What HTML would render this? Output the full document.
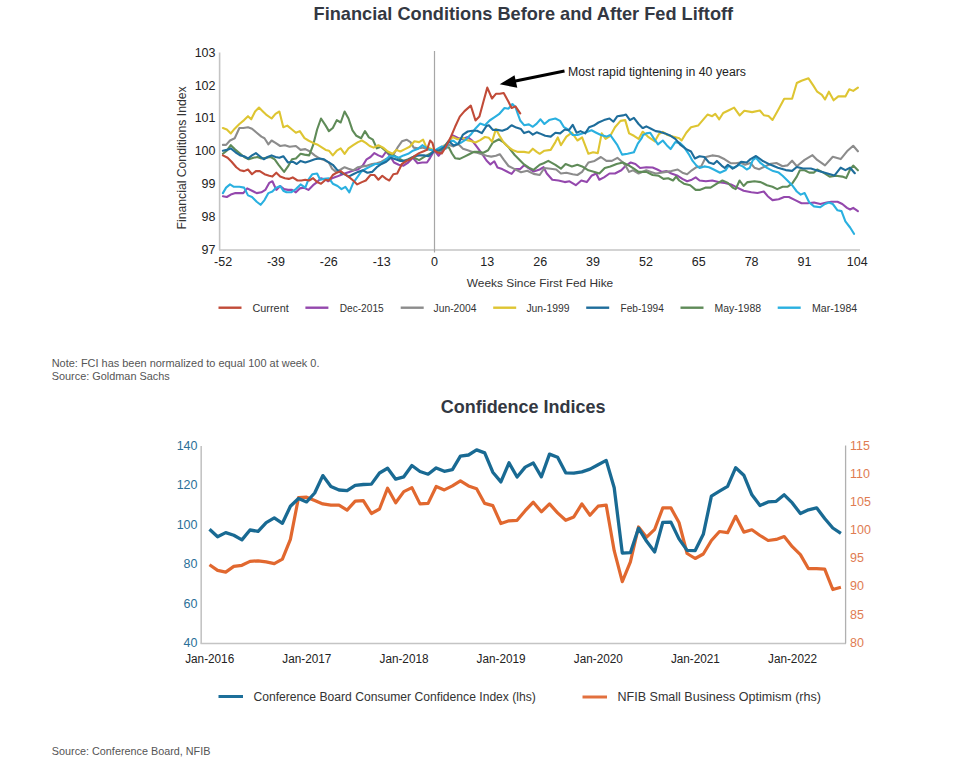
<!DOCTYPE html>
<html><head><meta charset="utf-8"><style>
html,body{margin:0;padding:0;background:#fff;}
body{width:974px;height:765px;overflow:hidden;font-family:"Liberation Sans", sans-serif;}
svg{display:block;}
</style></head><body>
<svg width="974" height="765" viewBox="0 0 974 765" font-family='"Liberation Sans", sans-serif'><text x="313.6" y="19.8" font-size="18.6" fill="#333842" text-anchor="start" font-weight="bold" textLength="419.5" lengthAdjust="spacingAndGlyphs" >Financial Conditions Before and After Fed Liftoff</text>
<line x1="219.6" y1="52.5" x2="219.6" y2="250" stroke="#c4c4c4" stroke-width="1.6"/>
<line x1="219" y1="250" x2="860" y2="250" stroke="#c4c4c4" stroke-width="1.6"/>
<line x1="434.5" y1="51" x2="434.5" y2="252.5" stroke="#a6a6a6" stroke-width="1.2"/>
<text x="215.5" y="253.6" font-size="12.5" fill="#222" text-anchor="end" font-weight="normal" >97</text>
<text x="215.5" y="220.8" font-size="12.5" fill="#222" text-anchor="end" font-weight="normal" >98</text>
<text x="215.5" y="188.0" font-size="12.5" fill="#222" text-anchor="end" font-weight="normal" >99</text>
<text x="215.5" y="155.2" font-size="12.5" fill="#222" text-anchor="end" font-weight="normal" >100</text>
<text x="215.5" y="122.4" font-size="12.5" fill="#222" text-anchor="end" font-weight="normal" >101</text>
<text x="215.5" y="89.6" font-size="12.5" fill="#222" text-anchor="end" font-weight="normal" >102</text>
<text x="215.5" y="56.8" font-size="12.5" fill="#222" text-anchor="end" font-weight="normal" >103</text>
<text x="223.1" y="266.0" font-size="12.5" fill="#222" text-anchor="middle" font-weight="normal" >-52</text>
<text x="276.0" y="266.0" font-size="12.5" fill="#222" text-anchor="middle" font-weight="normal" >-39</text>
<text x="328.8" y="266.0" font-size="12.5" fill="#222" text-anchor="middle" font-weight="normal" >-26</text>
<text x="381.7" y="266.0" font-size="12.5" fill="#222" text-anchor="middle" font-weight="normal" >-13</text>
<text x="434.5" y="266.0" font-size="12.5" fill="#222" text-anchor="middle" font-weight="normal" >0</text>
<text x="487.3" y="266.0" font-size="12.5" fill="#222" text-anchor="middle" font-weight="normal" >13</text>
<text x="540.2" y="266.0" font-size="12.5" fill="#222" text-anchor="middle" font-weight="normal" >26</text>
<text x="593.0" y="266.0" font-size="12.5" fill="#222" text-anchor="middle" font-weight="normal" >39</text>
<text x="645.9" y="266.0" font-size="12.5" fill="#222" text-anchor="middle" font-weight="normal" >52</text>
<text x="698.7" y="266.0" font-size="12.5" fill="#222" text-anchor="middle" font-weight="normal" >65</text>
<text x="751.6" y="266.0" font-size="12.5" fill="#222" text-anchor="middle" font-weight="normal" >78</text>
<text x="804.4" y="266.0" font-size="12.5" fill="#222" text-anchor="middle" font-weight="normal" >91</text>
<text x="857.3" y="266.0" font-size="12.5" fill="#222" text-anchor="middle" font-weight="normal" >104</text>
<text x="540.0" y="286.8" font-size="11.8" fill="#333" text-anchor="middle" font-weight="normal" textLength="146.4" lengthAdjust="spacingAndGlyphs" >Weeks Since First Fed Hike</text>
<text transform="translate(185.8,157.9) rotate(-90)" font-size="12.6" fill="#333" text-anchor="middle" textLength="143" lengthAdjust="spacingAndGlyphs">Financial Conditions Index</text>
<polyline points="222.9,196.2 226.8,197.0 230.8,194.6 235.5,193.1 239.4,193.1 243.3,193.1 247.2,188.4 252.0,190.7 256.7,193.1 261.4,192.3 265.3,189.9 269.2,182.9 272.4,181.3 276.3,189.9 280.2,186.0 284.1,189.1 288.0,189.9 292.0,189.9 295.9,192.3 299.8,188.4 303.7,187.6 308.4,189.9 313.1,185.2 317.1,182.1 321.0,178.2 325.7,179.7 328.1,181.3 332.1,178.2 336.8,176.6 340.7,175.0 344.6,173.5 349.3,171.9 354.0,170.3 358.0,169.5 362.7,165.6 366.6,159.3 370.5,157.0 374.4,153.1 378.4,155.4 382.3,157.0 386.2,151.5 390.1,156.2 394.0,162.5 398.7,164.8 403.5,165.6 408.2,162.5 412.9,157.8 417.6,163.3 422.3,162.5 427.0,162.5 430.1,157.8 434.4,150.5 434.5,150.7 438.6,155.8 442.6,150.3 447.3,144.0 452.8,135.4 457.5,137.8 462.2,139.3 467.7,137.0 472.4,140.9 477.1,147.2 481.8,153.5 486.5,160.5 490.4,164.4 494.3,161.3 497.5,167.6 502.2,169.1 506.9,171.5 511.6,173.9 515.5,169.1 520.2,169.1 524.1,165.2 528.9,168.4 533.6,171.5 539.7,169.5 543.6,167.2 546.8,173.5 552.3,179.7 558.5,180.5 564.8,182.1 569.5,181.3 575.8,185.2 581.3,180.5 586.8,182.1 591.5,175.8 596.2,173.5 599.3,179.7 604.0,177.4 609.5,173.5 615.0,173.5 621.3,170.3 626.0,165.6 630.7,162.5 635.4,164.0 640.1,168.0 646.3,167.2 652.6,167.5 657.3,169.5 662.0,171.9 666.7,171.1 671.4,173.5 677.7,175.8 682.4,178.9 687.1,181.3 691.8,179.7 695.7,177.4 699.6,180.5 705.9,181.3 712.2,180.5 718.5,182.1 724.7,182.9 731.0,184.4 737.3,187.6 743.6,190.7 751.3,192.3 757.5,193.0 763.8,191.5 767.7,196.2 772.5,200.1 778.7,199.3 784.2,197.0 788.9,197.0 795.2,200.1 801.5,203.2 807.7,203.2 814.0,202.5 820.3,204.0 826.6,202.5 831.3,201.7 837.5,201.7 842.3,204.0 847.0,207.9 850.1,209.5 853.2,207.9 857.9,211.1" fill="none" stroke="#9448ad" stroke-width="2.1" stroke-linejoin="round" stroke-linecap="round"/>
<polyline points="222.9,144.9 226.1,144.9 230.0,140.5 234.7,138.2 239.4,128.0 243.3,128.0 248.0,127.2 252.0,128.7 256.7,132.7 261.4,136.6 264.5,138.2 268.4,144.4 271.6,140.5 275.5,142.9 280.2,146.0 284.9,145.2 289.6,146.8 295.9,146.0 300.6,149.9 305.3,149.1 310.0,151.5 314.7,155.4 319.4,158.5 324.1,160.1 328.9,162.5 332.1,168.7 336.0,171.9 340.7,169.5 344.6,167.2 348.5,168.7 353.2,170.3 358.0,167.2 362.7,166.4 367.4,165.6 372.1,164.0 376.8,163.3 381.5,161.7 385.4,159.3 389.3,157.8 394.0,153.8 398.0,146.8 401.9,141.3 406.6,139.7 410.5,142.1 413.7,147.6 417.6,148.4 422.3,147.6 427.0,149.1 431.7,149.9 434.4,150.5 434.5,150.7 439.4,149.5 444.1,145.6 448.8,144.8 453.5,146.4 458.2,144.0 463.0,148.7 467.7,150.3 472.4,151.9 477.1,152.7 481.8,154.2 486.5,155.8 491.2,156.6 495.9,155.8 499.8,154.2 503.7,159.7 508.5,166.0 514.7,169.1 521.0,172.3 527.3,170.7 533.6,173.9 539.7,175.0 544.4,168.0 550.7,168.7 556.2,169.5 560.9,173.5 566.4,172.7 572.7,174.2 577.4,175.0 582.1,171.9 588.4,162.5 594.6,160.9 600.9,157.0 606.4,160.9 611.9,160.9 617.4,157.8 622.1,161.7 626.0,166.4 629.1,171.9 633.1,170.3 638.6,173.5 646.3,170.3 651.0,171.9 655.7,173.5 661.2,172.7 665.9,171.9 671.4,171.1 677.7,169.5 682.4,172.7 687.1,174.2 691.8,170.3 696.5,167.2 701.2,166.4 705.9,157.0 712.2,155.4 718.5,156.2 724.7,159.3 731.0,163.3 735.7,163.3 740.4,162.5 745.1,164.8 750.5,163.0 754.4,167.7 759.1,169.3 765.4,166.2 770.9,163.8 776.4,163.0 782.6,166.2 787.4,165.4 792.1,160.7 796.8,166.2 804.6,159.9 812.5,155.2 817.2,159.9 825.0,165.4 832.8,156.8 840.7,159.1 847.0,151.3 853.2,145.8 857.9,151.3" fill="none" stroke="#8c8c8c" stroke-width="2.1" stroke-linejoin="round" stroke-linecap="round"/>
<polyline points="222.9,153.8 226.8,150.7 230.8,145.2 234.7,149.1 239.4,153.1 244.1,157.0 248.8,159.3 253.5,157.8 257.4,157.0 261.4,158.5 266.1,157.8 270.8,157.0 274.7,159.3 278.6,164.8 284.1,171.9 288.0,166.4 292.0,159.3 295.9,158.5 300.6,153.8 304.5,154.6 309.2,155.4 313.1,145.2 317.1,129.5 321.0,118.5 325.7,125.6 328.9,131.1 332.8,128.0 336.8,120.1 340.7,122.5 344.6,111.5 348.5,118.5 352.5,130.3 356.4,135.8 361.1,138.2 365.0,131.1 368.9,137.4 372.9,139.7 376.8,148.4 380.7,146.8 385.4,150.7 389.3,153.8 394.0,155.4 398.7,158.5 403.5,160.9 408.2,159.3 412.9,157.0 419.1,160.1 425.4,156.2 430.1,153.8 434.4,150.5 434.5,150.7 439.4,151.1 444.1,148.0 448.8,147.2 452.0,153.5 455.1,158.2 459.8,158.9 464.5,156.6 469.2,154.2 473.9,151.9 478.6,151.9 483.4,152.7 488.1,150.3 492.8,142.5 499.0,139.3 503.7,142.5 508.5,147.2 514.7,155.0 519.4,159.7 524.1,164.4 528.9,167.6 533.6,169.9 539.7,164.8 543.6,163.3 548.3,160.9 555.4,164.8 560.9,168.7 565.6,164.0 571.9,166.4 577.4,164.8 582.1,166.4 588.4,170.3 594.6,171.9 599.3,173.5 604.8,168.0 610.3,166.4 616.6,164.0 622.9,162.5 629.1,165.6 633.9,168.7 638.6,171.9 646.3,171.9 652.6,175.0 658.8,175.8 663.5,178.9 668.2,178.2 673.0,180.5 676.1,176.6 679.2,180.5 683.9,183.7 690.2,185.2 695.7,189.9 699.6,189.9 705.9,187.6 710.6,187.6 716.9,183.7 722.4,180.5 727.9,182.9 732.6,187.6 735.7,189.1 739.6,180.5 743.6,186.0 747.5,182.1 748.1,182.1 754.4,181.3 760.7,182.1 767.0,185.2 772.5,186.8 777.2,189.1 782.6,186.8 787.4,186.8 792.1,183.6 796.8,176.6 799.9,170.3 804.6,170.3 809.3,172.6 814.0,172.6 817.2,169.5 823.4,172.6 829.7,176.6 836.0,175.8 842.3,176.6 846.2,178.1 850.1,169.5 853.2,165.6 857.9,170.3" fill="none" stroke="#5f8b58" stroke-width="2.1" stroke-linejoin="round" stroke-linecap="round"/>
<polyline points="222.9,128.0 226.8,129.5 230.8,133.4 234.7,128.7 239.4,124.0 244.1,120.1 248.0,116.2 251.2,119.3 255.1,111.5 259.0,107.6 262.9,111.5 266.1,114.6 271.6,118.5 275.5,113.8 279.4,111.5 283.3,127.2 287.3,125.6 292.0,129.5 295.9,132.7 299.8,131.1 304.5,138.2 308.4,140.5 313.1,142.9 317.1,144.4 321.0,146.8 325.7,149.9 328.9,150.7 332.8,155.4 336.8,150.7 340.7,148.4 344.6,153.8 348.5,148.4 353.2,145.2 358.0,142.1 361.9,140.5 365.8,142.9 369.7,146.0 373.6,147.6 378.4,145.2 383.1,147.6 387.8,151.5 392.5,153.8 396.4,149.9 400.3,151.5 405.0,149.1 409.7,146.8 414.4,141.3 419.1,142.1 423.1,139.7 426.2,146.8 430.1,148.4 434.4,150.5 434.5,150.7 439.4,150.3 444.1,146.4 448.8,140.9 452.8,137.0 457.5,139.3 462.2,137.8 466.9,140.1 470.8,140.9 475.5,142.5 480.2,140.1 484.9,137.0 488.8,137.8 492.0,141.7 495.9,129.1 499.8,136.2 503.7,142.5 508.5,147.2 513.2,150.3 517.9,151.9 524.1,151.9 528.9,152.7 532.8,148.7 536.7,151.9 539.7,153.8 544.4,150.7 550.7,149.9 555.4,142.1 557.8,137.4 560.9,145.2 566.4,136.6 571.9,132.7 577.4,140.5 582.1,137.4 588.4,153.8 593.1,152.3 597.8,153.1 601.7,133.4 605.6,138.9 610.3,135.8 615.0,127.2 620.5,120.9 625.2,120.1 629.1,133.4 633.9,135.8 638.6,138.9 642.5,131.9 643.1,131.9 647.8,136.6 654.9,141.3 658.8,134.2 662.8,131.9 667.5,135.0 673.0,136.6 679.2,138.2 681.6,140.5 686.3,132.7 691.0,127.2 698.1,125.6 702.8,120.1 707.5,114.6 712.2,116.2 715.3,113.8 719.2,119.3 723.2,113.0 727.9,110.7 734.1,107.6 739.6,115.4 744.3,110.7 752.1,112.1 759.9,110.5 763.8,115.2 768.5,116.0 772.5,119.9 778.7,108.9 784.2,98.7 792.1,98.7 796.8,83.0 801.5,80.7 808.5,78.3 813.2,85.4 817.2,91.7 821.9,94.8 825.0,99.5 828.9,91.7 833.6,100.3 838.3,96.4 845.4,96.4 849.3,89.3 853.2,90.9 857.9,87.7" fill="none" stroke="#dec532" stroke-width="2.1" stroke-linejoin="round" stroke-linecap="round"/>
<polyline points="222.9,193.1 226.1,187.6 230.0,184.4 233.9,186.8 239.4,186.8 244.1,187.6 248.0,195.4 252.0,197.0 256.7,201.7 260.6,204.8 264.5,200.1 268.4,193.1 272.4,191.5 276.3,187.6 280.2,186.0 283.3,190.7 286.5,192.3 291.2,192.3 295.9,189.1 300.6,184.4 305.3,187.6 308.4,179.7 312.4,174.2 317.1,173.5 320.2,179.7 324.1,178.9 328.9,178.2 332.8,183.7 337.6,186.0 341.5,189.1 345.4,186.8 349.3,192.3 353.2,182.9 357.2,177.4 361.1,171.9 365.8,168.7 370.5,166.4 375.2,164.0 379.9,164.0 384.6,160.9 389.3,156.2 394.0,156.2 398.7,157.8 403.5,155.4 408.2,153.8 412.9,150.7 417.6,149.1 422.3,145.2 427.0,148.4 430.9,149.9 434.4,150.5 434.5,150.7 437.8,148.7 441.8,146.4 445.7,148.7 449.6,140.9 453.5,140.9 457.5,144.0 461.4,142.5 466.1,139.3 470.8,134.6 475.5,128.4 480.2,123.6 484.9,125.2 489.6,120.5 494.3,117.4 499.0,114.2 504.5,108.0 508.5,108.7 512.4,104.0 515.5,107.2 517.9,114.2 520.2,120.5 524.1,125.2 528.9,124.4 532.8,126.8 536.7,123.6 540.5,119.3 544.4,124.0 549.1,120.1 555.4,118.5 560.1,120.9 564.0,127.2 568.0,129.5 572.7,135.0 577.4,135.0 582.1,133.4 586.8,131.9 591.5,130.3 596.2,132.7 600.9,135.0 606.4,136.6 610.3,135.0 613.5,139.7 617.4,145.2 622.1,154.6 627.6,153.8 633.9,152.3 637.8,143.6 641.7,138.2 643.1,135.0 646.3,133.4 650.2,132.7 654.1,138.9 658.0,144.4 662.8,140.5 666.7,145.2 670.6,149.1 675.3,142.1 680.0,142.9 683.9,146.8 688.6,153.8 692.6,160.9 696.5,165.6 699.6,168.0 704.3,166.4 709.0,167.2 713.7,169.5 720.0,172.7 725.5,170.3 728.7,165.6 734.1,168.0 738.9,164.8 742.8,166.4 746.7,169.5 749.7,167.9 752.8,160.1 756.0,157.7 760.7,163.2 767.0,167.9 773.2,171.1 778.7,172.6 782.6,175.8 787.4,180.5 792.1,185.2 796.8,191.5 800.7,194.6 804.6,193.0 809.3,202.5 814.0,206.4 820.3,207.2 825.0,204.0 828.9,202.5 832.8,204.0 837.5,210.3 841.5,211.1 845.4,221.3 850.1,227.5 854.0,233.8" fill="none" stroke="#2ab0e0" stroke-width="2.1" stroke-linejoin="round" stroke-linecap="round"/>
<polyline points="222.9,150.7 226.8,149.9 230.8,148.4 235.5,152.3 240.2,155.4 244.1,156.2 248.0,158.5 252.0,155.4 255.9,153.1 259.8,156.2 263.7,159.3 267.6,157.0 271.6,155.4 275.5,157.0 279.4,157.8 283.3,156.2 288.0,162.5 292.7,161.7 296.7,164.0 300.6,160.9 305.3,162.5 310.0,160.9 314.7,159.3 319.4,158.5 324.1,159.3 328.9,162.5 332.8,164.8 336.8,169.5 340.7,172.7 344.6,174.2 348.5,176.6 353.2,174.2 358.0,171.9 362.7,170.3 367.4,172.7 372.1,171.9 376.8,167.2 381.5,164.0 386.2,161.7 390.9,157.8 395.6,159.3 400.3,160.9 405.0,160.9 409.7,159.3 414.4,156.2 419.1,155.4 423.9,155.4 428.6,156.2 434.4,150.5 434.5,150.7 439.4,150.3 444.1,147.2 448.8,140.9 453.5,145.6 458.2,144.0 463.0,134.6 467.7,131.5 472.4,130.7 477.1,130.7 481.8,133.1 486.5,126.0 488.8,125.2 492.8,129.9 497.5,129.9 502.2,130.7 506.9,129.1 511.6,125.2 516.3,127.6 521.0,129.1 524.1,133.1 528.9,131.5 532.8,134.6 536.7,132.3 539.7,133.4 545.2,135.8 550.7,136.6 555.4,132.7 560.1,133.4 564.8,129.5 568.7,130.3 572.7,124.8 576.6,132.7 580.5,131.1 585.2,133.4 589.1,127.2 593.8,125.6 598.5,122.5 604.0,120.1 609.5,118.5 613.5,121.7 617.4,116.2 622.9,115.4 626.0,114.6 629.9,120.1 633.9,117.8 638.6,124.0 642.5,128.0 643.1,128.0 646.3,126.4 651.0,128.7 655.7,131.1 660.4,131.9 665.1,133.4 670.6,135.8 675.3,138.9 680.8,145.2 686.3,149.1 691.0,151.5 694.9,158.5 699.6,156.2 704.3,157.0 709.0,162.5 713.7,164.0 716.9,160.9 721.6,165.6 724.7,168.0 727.9,164.8 732.6,168.7 737.3,165.6 741.2,161.7 746.7,162.5 750.5,159.1 756.0,156.0 762.3,160.7 770.1,164.6 777.9,167.7 785.8,170.1 792.1,170.9 796.8,167.0 803.0,168.5 810.9,168.5 818.7,170.9 826.6,173.2 834.4,175.6 840.7,167.7 845.4,170.1 850.1,167.7 854.8,173.2" fill="none" stroke="#1e6d9b" stroke-width="2.1" stroke-linejoin="round" stroke-linecap="round"/>
<polyline points="222.9,155.4 227.6,157.8 231.6,161.7 236.3,167.2 240.2,170.3 244.1,171.1 248.0,169.5 252.0,174.2 255.9,171.1 259.8,171.1 264.5,174.2 269.2,175.8 272.4,176.6 276.3,172.7 280.2,176.6 284.9,178.2 288.8,178.9 292.7,177.4 297.5,180.5 301.4,180.5 305.3,179.7 309.2,180.5 313.1,178.2 317.1,182.1 321.0,183.7 325.7,179.7 328.9,180.5 332.8,175.0 336.8,172.7 340.7,171.1 344.6,174.2 348.5,176.6 353.2,180.5 357.2,184.4 361.9,182.1 365.8,180.5 370.5,175.0 374.4,175.0 378.4,179.7 382.3,175.8 386.2,178.9 389.3,180.5 393.3,174.2 397.2,173.5 401.9,164.0 406.6,160.9 410.5,159.3 414.4,156.2 419.1,153.1 423.1,151.5 427.0,149.9 430.1,140.5 432.5,142.9 434.4,150.5 434.5,150.7 437.8,152.7 441.8,153.5 445.7,147.2 450.4,137.8 455.1,126.8 459.8,116.6 464.5,111.1 470.8,105.6 475.5,120.5 479.4,116.6 483.4,101.7 487.3,87.6 492.0,98.5 495.9,93.8 499.8,93.8 503.7,93.0 508.5,101.7 511.6,108.0 515.5,106.4 520.2,113.4" fill="none" stroke="#c14b38" stroke-width="2.1" stroke-linejoin="round" stroke-linecap="round"/>
<line x1="564.5" y1="71" x2="513" y2="81.5" stroke="#000" stroke-width="2.9"/>
<polygon points="499.7,84.3 514.5,75.3 517.3,87.7" fill="#000"/>
<text x="568.0" y="76.0" font-size="12" fill="#222" text-anchor="start" font-weight="normal" textLength="178.0" lengthAdjust="spacingAndGlyphs" >Most rapid tightening in 40 years</text>
<line x1="218.5" y1="307.7" x2="241.5" y2="307.7" stroke="#c14b38" stroke-width="2.4"/>
<text x="252.5" y="311.6" font-size="11.5" fill="#333" text-anchor="start" font-weight="normal" textLength="36.2" lengthAdjust="spacingAndGlyphs" >Current</text>
<line x1="305.4" y1="307.7" x2="328.4" y2="307.7" stroke="#9448ad" stroke-width="2.4"/>
<text x="339.7" y="311.6" font-size="11.5" fill="#333" text-anchor="start" font-weight="normal" textLength="44.0" lengthAdjust="spacingAndGlyphs" >Dec-2015</text>
<line x1="400.7" y1="307.7" x2="423.7" y2="307.7" stroke="#8c8c8c" stroke-width="2.4"/>
<text x="433.6" y="311.6" font-size="11.5" fill="#333" text-anchor="start" font-weight="normal" textLength="42.9" lengthAdjust="spacingAndGlyphs" >Jun-2004</text>
<line x1="493.2" y1="307.7" x2="516.2" y2="307.7" stroke="#dec532" stroke-width="2.4"/>
<text x="526.4" y="311.6" font-size="11.5" fill="#333" text-anchor="start" font-weight="normal" textLength="43.2" lengthAdjust="spacingAndGlyphs" >Jun-1999</text>
<line x1="586.2" y1="307.7" x2="609.2" y2="307.7" stroke="#1e6d9b" stroke-width="2.4"/>
<text x="620.6" y="311.6" font-size="11.5" fill="#333" text-anchor="start" font-weight="normal" textLength="43.2" lengthAdjust="spacingAndGlyphs" >Feb-1994</text>
<line x1="680.5" y1="307.7" x2="703.5" y2="307.7" stroke="#5f8b58" stroke-width="2.4"/>
<text x="714.5" y="311.6" font-size="11.5" fill="#333" text-anchor="start" font-weight="normal" textLength="46.6" lengthAdjust="spacingAndGlyphs" >May-1988</text>
<line x1="777.7" y1="307.7" x2="800.7" y2="307.7" stroke="#2ab0e0" stroke-width="2.4"/>
<text x="812.1" y="311.6" font-size="11.5" fill="#333" text-anchor="start" font-weight="normal" textLength="45.1" lengthAdjust="spacingAndGlyphs" >Mar-1984</text>
<text x="51.7" y="366.9" font-size="10.5" fill="#555" text-anchor="start" font-weight="normal" textLength="267.8" lengthAdjust="spacingAndGlyphs" >Note: FCI has been normalized to equal 100 at week 0.</text>
<text x="51.7" y="379.6" font-size="10.5" fill="#555" text-anchor="start" font-weight="normal" textLength="118.1" lengthAdjust="spacingAndGlyphs" >Source: Goldman Sachs</text>
<text x="440.7" y="413.3" font-size="18.2" fill="#333842" text-anchor="start" font-weight="bold" textLength="164.9" lengthAdjust="spacingAndGlyphs" >Confidence Indices</text>
<line x1="201.2" y1="446" x2="201.2" y2="643.5" stroke="#c4c4c4" stroke-width="1.6"/>
<line x1="200.5" y1="643.5" x2="846" y2="643.5" stroke="#c4c4c4" stroke-width="1.6"/>
<line x1="845.6" y1="445.5" x2="845.6" y2="643.5" stroke="#b0b0b0" stroke-width="1.3"/>
<text x="197.5" y="647.3" font-size="12.5" fill="#2b6f98" text-anchor="end" font-weight="normal" >40</text>
<text x="197.5" y="607.8" font-size="12.5" fill="#2b6f98" text-anchor="end" font-weight="normal" >60</text>
<text x="197.5" y="568.2" font-size="12.5" fill="#2b6f98" text-anchor="end" font-weight="normal" >80</text>
<text x="197.5" y="528.6" font-size="12.5" fill="#2b6f98" text-anchor="end" font-weight="normal" >100</text>
<text x="197.5" y="489.1" font-size="12.5" fill="#2b6f98" text-anchor="end" font-weight="normal" >120</text>
<text x="197.5" y="449.6" font-size="12.5" fill="#2b6f98" text-anchor="end" font-weight="normal" >140</text>
<text x="850.0" y="646.6" font-size="12.5" fill="#e07c52" text-anchor="start" font-weight="normal" >80</text>
<text x="850.0" y="618.5" font-size="12.5" fill="#e07c52" text-anchor="start" font-weight="normal" >85</text>
<text x="850.0" y="590.3" font-size="12.5" fill="#e07c52" text-anchor="start" font-weight="normal" >90</text>
<text x="850.0" y="562.1" font-size="12.5" fill="#e07c52" text-anchor="start" font-weight="normal" >95</text>
<text x="850.0" y="534.0" font-size="12.5" fill="#e07c52" text-anchor="start" font-weight="normal" >100</text>
<text x="850.0" y="505.9" font-size="12.5" fill="#e07c52" text-anchor="start" font-weight="normal" >105</text>
<text x="850.0" y="477.7" font-size="12.5" fill="#e07c52" text-anchor="start" font-weight="normal" >110</text>
<text x="850.0" y="449.6" font-size="12.5" fill="#e07c52" text-anchor="start" font-weight="normal" >115</text>
<text x="209.7" y="663.3" font-size="12.5" fill="#222" text-anchor="middle" font-weight="normal" textLength="49.0" lengthAdjust="spacingAndGlyphs" >Jan-2016</text>
<text x="306.8" y="663.3" font-size="12.5" fill="#222" text-anchor="middle" font-weight="normal" textLength="49.0" lengthAdjust="spacingAndGlyphs" >Jan-2017</text>
<text x="404.0" y="663.3" font-size="12.5" fill="#222" text-anchor="middle" font-weight="normal" textLength="49.0" lengthAdjust="spacingAndGlyphs" >Jan-2018</text>
<text x="501.1" y="663.3" font-size="12.5" fill="#222" text-anchor="middle" font-weight="normal" textLength="49.0" lengthAdjust="spacingAndGlyphs" >Jan-2019</text>
<text x="598.3" y="663.3" font-size="12.5" fill="#222" text-anchor="middle" font-weight="normal" textLength="49.0" lengthAdjust="spacingAndGlyphs" >Jan-2020</text>
<text x="695.4" y="663.3" font-size="12.5" fill="#222" text-anchor="middle" font-weight="normal" textLength="49.0" lengthAdjust="spacingAndGlyphs" >Jan-2021</text>
<text x="792.5" y="663.3" font-size="12.5" fill="#222" text-anchor="middle" font-weight="normal" textLength="49.0" lengthAdjust="spacingAndGlyphs" >Jan-2022</text>
<polyline points="209.5,564.7 217.6,570.4 225.7,572.1 233.8,566.4 241.9,565.3 250.0,561.4 258.1,560.8 266.2,561.9 274.3,563.6 282.4,559.1 290.4,539.4 298.5,497.7 306.6,497.2 314.7,500.6 322.8,503.9 330.9,505.1 339.0,505.1 347.1,510.1 355.2,501.1 363.3,500.6 371.4,513.5 379.5,509.0 387.6,488.2 395.7,502.8 403.8,491.6 411.9,487.6 420.0,503.9 428.1,503.4 436.2,486.5 444.3,489.9 452.4,485.9 460.4,480.9 468.5,485.9 476.6,488.7 484.7,503.4 492.8,505.6 500.9,523.6 509.0,520.8 517.1,520.3 525.2,510.7 533.3,502.2 541.4,511.8 549.5,503.9 557.6,512.9 565.7,520.3 573.8,516.9 581.9,503.9 590.0,515.2 598.1,506.2 606.2,505.1 614.2,550.7 622.3,581.6 630.4,561.9 638.5,527.0 646.6,537.2 654.7,529.3 662.8,507.9 670.9,507.9 679.0,522.5 687.1,553.5 695.2,558.5 703.3,554.0 711.4,540.5 719.5,531.5 727.6,532.7 735.7,516.3 743.8,532.1 751.9,529.8 760.0,535.5 768.1,540.5 776.2,539.4 784.2,536.6 792.3,546.7 800.4,554.6 808.5,568.7 816.6,568.7 824.7,569.2 832.8,589.5 840.9,587.3" fill="none" stroke="#e1682f" stroke-width="3.2" stroke-linejoin="round"/>
<polyline points="209.5,529.2 217.6,536.7 225.7,532.6 233.8,535.3 241.9,539.9 250.0,530.0 258.1,531.4 266.2,522.7 274.3,517.9 282.4,523.3 290.4,506.3 298.5,498.5 306.6,501.9 314.7,493.0 322.8,475.6 330.9,486.5 339.0,490.0 347.1,490.6 355.2,485.3 363.3,484.5 371.4,484.1 379.5,473.0 387.6,468.3 395.7,479.2 403.8,476.8 411.9,465.5 420.0,471.5 428.1,474.2 436.2,467.9 444.3,471.3 452.4,469.7 460.4,456.2 468.5,455.0 476.6,449.9 484.7,452.9 492.8,472.2 500.9,481.9 509.0,462.8 517.1,477.0 525.2,467.1 533.3,463.0 541.4,476.8 549.5,454.1 557.6,457.2 565.7,472.8 573.8,473.2 581.9,471.9 590.0,469.1 598.1,464.7 606.2,460.4 614.2,487.7 622.3,553.1 630.4,552.7 638.5,528.2 646.6,541.3 654.7,551.9 662.8,522.3 670.9,522.1 679.0,538.9 687.1,550.4 695.2,550.6 703.3,534.3 711.4,496.2 719.5,491.2 727.6,486.3 735.7,467.7 743.8,475.2 751.9,494.8 760.0,505.5 768.1,501.9 776.2,501.3 784.2,494.8 792.3,502.9 800.4,513.6 808.5,509.8 816.6,507.8 824.7,518.5 832.8,528.0 840.9,533.4" fill="none" stroke="#196a93" stroke-width="3.3" stroke-linejoin="round"/>
<line x1="218.5" y1="696.5" x2="243" y2="696.5" stroke="#1d6f9a" stroke-width="3"/>
<text x="253.4" y="701.0" font-size="12" fill="#333" text-anchor="start" font-weight="normal" textLength="282.5" lengthAdjust="spacingAndGlyphs" >Conference Board Consumer Confidence Index (lhs)</text>
<line x1="582.5" y1="697" x2="607" y2="697" stroke="#e2703e" stroke-width="3"/>
<text x="617.5" y="701.4" font-size="12" fill="#333" text-anchor="start" font-weight="normal" textLength="203.4" lengthAdjust="spacingAndGlyphs" >NFIB Small Business Optimism (rhs)</text>
<text x="51.8" y="755.0" font-size="10.5" fill="#555" text-anchor="start" font-weight="normal" textLength="158.6" lengthAdjust="spacingAndGlyphs" >Source: Conference Board, NFIB</text></svg>
</body></html>
